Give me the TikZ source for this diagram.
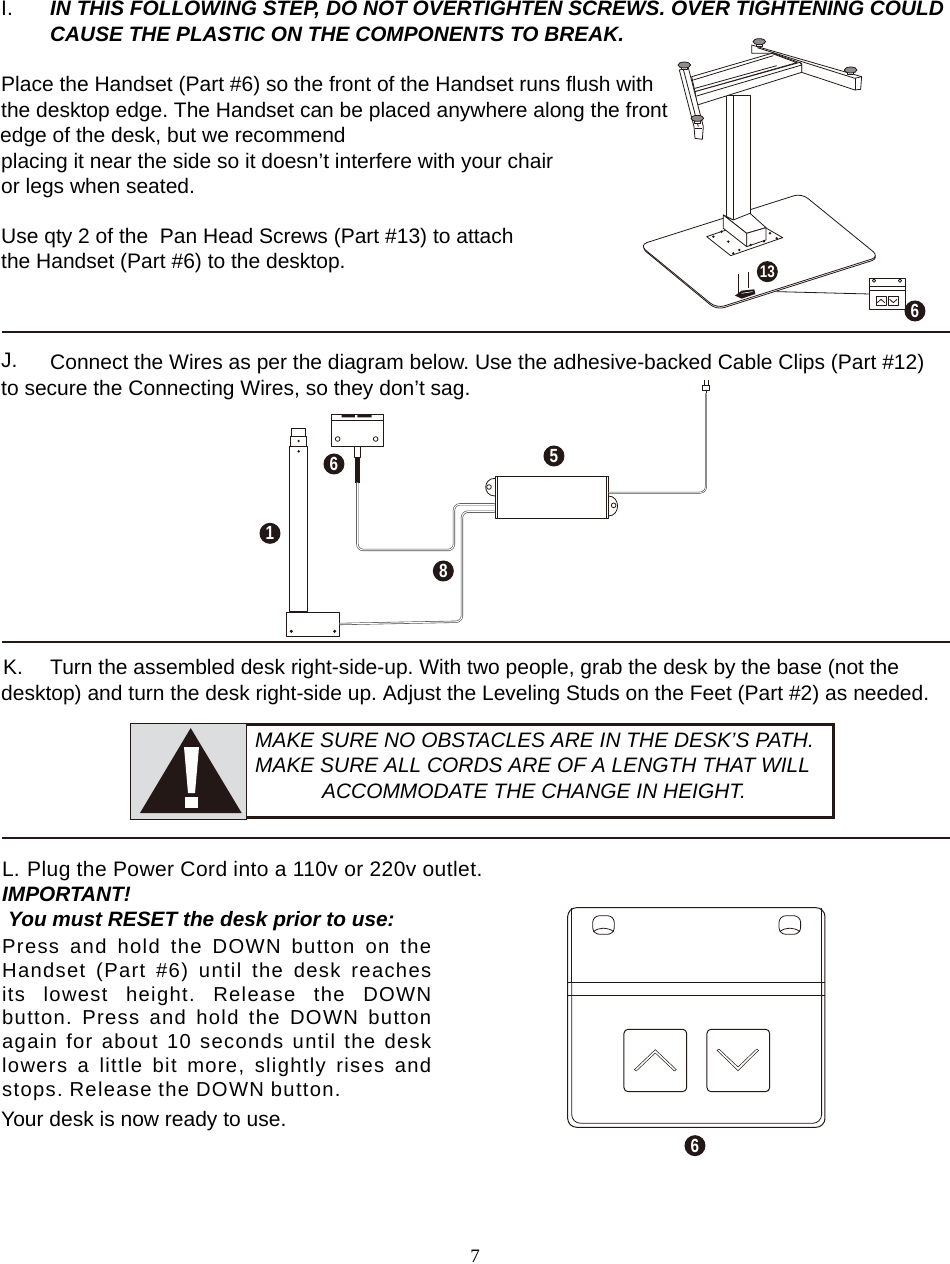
\documentclass[tikz,border=0pt]{standalone}
\usepackage{fontspec}
\setmainfont{Liberation Sans}
\newfontfamily\pageserif{Liberation Serif}
\newfontfamily\spacedsans[LetterSpace=6.5]{Liberation Sans}
\newfontfamily\widesans[LetterSpace=2]{Liberation Sans}
\usetikzlibrary{positioning}
\definecolor{inkdark}{HTML}{231815}
\definecolor{panelgrey}{HTML}{DCDDDE}
\newcommand{\jline}[1]{\makebox[429pt][s]{#1}}
\newcommand{\pn}[1]{\scalebox{.9}[1.12]{#1}}
\frenchspacing
\tikzset{
	bodytext/.style={anchor=base west,inner sep=0pt,font=\fontsize{21}{25}\selectfont},
	boldtext/.style={bodytext,font=\fontsize{20.8}{25}\selectfont\bfseries\itshape},
	boxtext/.style={bodytext,font=\fontsize{20.9}{25}\selectfont\itshape},
	justtext/.style={bodytext,font=\fontsize{20.2}{24}\selectfont\spacedsans},
	partnum/.style={circle,fill=inkdark,text=white,inner sep=0pt,minimum size=21pt,font=\fontsize{17}{17}\selectfont\bfseries},
	rule/.style={draw=inkdark,line width=1.1pt},
	outline/.style={draw=inkdark,line width=.8pt,line join=round},
	wire/.style={draw=black!70,line width=.6pt,double=white,double distance=1pt,rounded corners=6pt},
	controlbox/.style={outline,fill=white,inner sep=0pt}
}
\begin{document}
\begin{tikzpicture}[x=1pt,y=-1pt]
	\useasboundingbox (0,0) rectangle (950,1264);

	\node[bodytext] (secI) at (1,15) {I.};
	\node[boldtext] (warnA) at (50,15) {IN THIS FOLLOWING STEP, DO NOT OVERTIGHTEN SCREWS. OVER TIGHTENING COULD};
	\node[boldtext] (warnB) at (50,41) {CAUSE THE PLASTIC ON THE COMPONENTS TO BREAK.};
	\node[bodytext] (placeA) at (1,91) {Place the Handset (Part \#6) so the front of the Handset runs flush with};
	\node[bodytext] (placeB) at (1,117) {the desktop edge. The Handset can be placed anywhere along the front};
	\node[bodytext] (placeC) at (0,142) {edge of the desk, but we recommend};
	\node[bodytext] (placeD) at (1,168) {placing it near the side so it doesn’t interfere with your chair};
	\node[bodytext] (placeE) at (1,193) {or legs when seated.};
	\node[bodytext] (useA) at (1,243) {Use qty 2 of the\ \ Pan Head Screws (Part \#13) to attach};
	\node[bodytext] (useB) at (1,268) {the Handset (Part \#6) to the desktop.};

	\draw[rule] (2,332) -- (950,332);
	\draw[rule] (2,642) -- (950,642);
	\draw[rule] (2,838) -- (950,838);

	\node[bodytext] (secJ) at (1,367) {J.};
	\node[bodytext] (wireA) at (50,369) {Connect the Wires as per the diagram below. Use the adhesive-backed Cable Clips (Part \#12)};
	\node[bodytext] (wireB) at (1,395) {to secure the Connecting Wires, so they don’t sag.};

	\node[bodytext] (secK) at (3,674) {K.};
	\node[bodytext] (turnA) at (50,674) {Turn the assembled desk right-side-up. With two people, grab the desk by the base (not the};
	\node[bodytext] (turnB) at (1,700) {desktop) and turn the desk right-side up. Adjust the Leveling Studs on the Feet (Part \#2) as needed.};

	\node[bodytext] (secL) at (2,876) {L.};
	\node[bodytext,font=\fontsize{21}{25}\selectfont\widesans] (plug) at (27,876) {Plug the Power Cord into a 110v or 220v outlet.};
	\node[boldtext] (important) at (2,901) {IMPORTANT!};
	\node[boldtext] (reset) at (8,926) {You must RESET the desk prior to use:};
	\node[justtext] (pressA) at (2,953) {\jline{Press and hold the DOWN button on the}};
	\node[justtext] (pressB) at (2,977) {\jline{Handset (Part \#6) until the desk reaches}};
	\node[justtext] (pressC) at (2,1001) {\jline{its lowest height. Release the DOWN}};
	\node[justtext] (pressD) at (2,1024) {\jline{button. Press and hold the DOWN button}};
	\node[justtext] (pressE) at (2,1048) {\jline{again for about 10 seconds until the desk}};
	\node[justtext] (pressF) at (2,1072) {\jline{lowers a little bit more, slightly rises and}};
	\node[justtext] (pressG) at (2,1096) {stops. Release the DOWN button.};
	\node[bodytext] (ready) at (1,1126) {Your desk is now ready to use.};
	\node[anchor=base,inner sep=0pt,font=\fontsize{19}{19}\selectfont\pageserif] (pagenum) at (475,1262) {7};

	% warning box
	\fill[panelgrey] (130,723) rectangle (246,819);
	\draw[draw=inkdark,line width=1pt] (130,723) rectangle (246,819);
	\draw[draw=inkdark,line width=3pt] (246,724.5) -- (833,724.5) -- (833,817.5) -- (246,817.5);
	\draw[draw=inkdark,line width=1pt] (246,723) -- (246,819);
	\fill[inkdark] (190.7,728) -- (241.7,813) -- (140,813) -- cycle;
	\fill[white] (184,747) -- (199,747) -- (195,793) -- (188,793) -- cycle;
	\fill[white] (185,797) rectangle (198,808);
	\node[boxtext] (boxA) at (255,747) {MAKE SURE NO OBSTACLES ARE IN THE DESK’S PATH.};
	\node[boxtext] (boxB) at (255,772) {MAKE SURE ALL CORDS ARE OF A LENGTH THAT WILL};
	\node[boxtext] (boxC) at (322,798) {ACCOMMODATE THE CHANGE IN HEIGHT.};

	% desk on its stand
	\begin{scope}[shift={(620,30)},x=.3333pt,y=-.3333pt]
		\draw[outline,fill=white,rounded corners=8pt] (60,650) -- (545,495) -- (778,685) -- (290,840) -- cycle;
		\draw[outline,fill=white,rounded corners=8pt] (58,645) -- (545,490) -- (778,680) -- (290,835) -- cycle;
		\draw[outline,fill=white] (260,620) -- (400,572) -- (488,623) -- (332,677) -- cycle;
		\draw[outline,fill=white] (320,195) rectangle (392,570);
		\draw[outline] (340,195) -- (340,570);
		\draw[outline,fill=white] (310,555) -- (340,570) -- (390,550) -- (438,593) -- (380,610) -- cycle;
		\draw[outline,fill=white] (310,555) -- (380,610) -- (380,650) -- (310,595) -- cycle;
		\draw[outline,fill=white] (380,610) -- (438,593) -- (438,630) -- (380,650) -- cycle;
		\draw[outline,fill=white] (395,45) -- (725,140) -- (722,178) -- (705,180) -- (545,127) -- (545,100) -- (460,70) -- (395,70) -- cycle;
		\draw[outline] (412,53) -- (705,145) -- (725,140);
		\draw[outline] (705,145) -- (705,180);
		\draw[outline,fill=white] (215,140) -- (455,70) -- (530,98) -- (225,185) -- cycle;
		\draw[outline] (220,150) -- (460,77);
		\draw[outline] (225,175) -- (470,107);
		\draw[outline,fill=white] (225,185) -- (540,97) -- (545,105) -- (545,127) -- (232,225) -- cycle;
		\draw[outline] (230,198) -- (545,105);
		\draw[outline,fill=white] (178,120) -- (205,113) -- (250,290) -- (247,328) -- (225,325) -- (222,290) -- cycle;
		\draw[outline] (190,118) -- (235,290);
		\draw[outline] (225,295) -- (247,295);
		\foreach \fx/\fy in {193/105,232/265,418/35,692/120} {
			\draw[outline,fill=white] (\fx-9,\fy) rectangle (\fx+9,\fy+14);
			\draw[outline,fill=black!45] (\fx,\fy) ellipse (19 and 9);
		}
		\foreach \px/\py in {280/620,305/605,325/635,358/660,340/670,432/634,470/625,392/645,450/610} {
			\fill[inkdark] (\px,\py) circle (4);
		}
		\draw[outline] (356,745) -- (356,790);
		\draw[outline] (385,735) -- (385,775);
		\draw[draw=inkdark,line width=1.6pt] (356,733) -- (356,748);
		\draw[draw=inkdark,line width=1.6pt] (385,725) -- (385,740);
		\fill[inkdark] (345,797) -- (365,782) -- (403,778) -- (406,792) -- (365,806) -- cycle;
		\draw[white,line width=.6pt] (365,790) -- (398,785);
		\coordinate (deskedge) at (470,785);
		\node[controlbox,minimum width=36pt,minimum height=31pt] (smallhandset) at (802,792) {};
		\draw[outline] (deskedge) -- (smallhandset.west);
		\draw[outline] (748,770) -- (855,770);
		\draw[outline] (748,780) -- (855,780);
		\draw[outline] (768,800) rectangle (798,825);
		\draw[outline] (805,800) rectangle (835,825);
		\draw[outline] (772,818) -- (783,808) -- (794,818);
		\draw[outline] (809,808) -- (820,818) -- (831,808);
		\draw[outline] (762,752) circle (5);
		\draw[outline] (840,752) circle (5);
		\node[partnum,font=\fontsize{15}{15}\selectfont\bfseries] (num13) at (442,725) {\pn{13}};
		\node[partnum] (numsix) at (885,843) {\pn{6}};
	\end{scope}

	% wiring
	\begin{scope}[shift={(250,370)},x=.3333pt,y=-.3333pt]
		\draw[outline,fill=white] (125,175) rectangle (165,200);
		\draw[outline,fill=white] (122,200) rectangle (168,228);
		\draw[outline,fill=white] (118,228) rectangle (172,725);
		\fill[inkdark] (146,213) circle (4) (146,244) circle (4);
		\node[controlbox,minimum width=52.5pt,minimum height=24pt] (legfoot) at (189,762) {};
		\fill[inkdark] (124,784) circle (5) (254,784) circle (5);
		\node[controlbox,minimum width=51.5pt,minimum height=32pt] (wiredhandset) at (322,180) {};
		\draw[outline] (245,150) -- (400,150);
		\fill[inkdark] (275,132) rectangle (315,142) (322,132) rectangle (365,142);
		\draw[outline] (263,207) circle (7);
		\draw[outline] (377,207) circle (7);
		\draw[outline,fill=white] (312,228) rectangle (332,262);
		\fill[inkdark] (314,262) rectangle (330,338);
		\coordinate (plugend) at (322,338);
		\draw[outline,fill=white] (735,325) .. controls (698,325) and (698,378) .. (735,378);
		\draw[outline,fill=white] (1075,378) .. controls (1112,378) and (1112,438) .. (1075,438);
		\node[controlbox,minimum width=113pt,minimum height=42pt] (controller) at (905,381) {};
		\draw[outline] (743,318) -- (743,443);
		\draw[outline] (1068,318) -- (1068,443);
		\draw[outline] (717,351) circle (7);
		\draw[outline] (1091,406) circle (7);
		\draw[wire] (plugend) -- (322,540) -- (612,540) -- (612,403) -- (controller.west |- 0,403);
		\draw[wire] (legfoot.east) -- (636,755) -- (636,425) -- (controller.west |- 0,425);
		\coordinate (plugfoot) at (1368,70);
		\draw[wire,double distance=.6pt] (controller.east |- 0,368) -- (1368,368) -- (plugfoot);
		\draw[outline,fill=white] (1358,46) rectangle (1378,60);
		\draw[outline] (1368,60) -- (plugfoot);
		\draw[outline] (1362,30) -- (1362,46);
		\draw[outline] (1374,30) -- (1374,46);
		\node[partnum] (numone) at (60,490) {\pn{1}};
		\node[partnum] (numsixb) at (252,282) {\pn{6}};
		\node[partnum] (numfive) at (912,258) {\pn{5}};
		\node[partnum] (numeight) at (580,603) {\pn{8}};
	\end{scope}

	% large handset
	\begin{scope}[shift={(555,895)},x=.3333pt,y=-.3333pt]
		\draw[outline,line width=1pt,rounded corners=9pt] (38,38) rectangle (810,697);
		\draw[outline,rounded corners=9pt] (50,262) -- (50,685) -- (800,685) -- (800,262);
		\draw[outline] (50,38) -- (50,262);
		\draw[outline] (800,38) -- (800,262);
		\draw[outline] (38,262) -- (810,262);
		\draw[outline,line width=1pt] (38,302) -- (810,302);
		\foreach \hx in {113,672} {
			\draw[outline,rounded corners=7pt] (\hx,62) rectangle (\hx+65,118);
			\draw[outline] (\hx+2,110) .. controls (\hx+20,96) and (\hx+45,96) .. (\hx+63,110);
		}
		\draw[outline,line width=1pt,rounded corners=4pt] (207,403) rectangle (395,590);
		\draw[outline,line width=1pt,rounded corners=4pt] (456,403) rectangle (644,590);
		\draw[outline,line width=.5pt,line cap=round] (238,524) -- (301,464) -- (364,524) -- (358,528) -- (301,474) -- (244,528) -- cycle;
		\draw[outline,line width=.5pt,line cap=round] (486,466) -- (549,527) -- (611,466) -- (605,462) -- (549,516) -- (492,462) -- cycle;
		\node[partnum] (numsixc) at (420,752) {\pn{6}};
	\end{scope}
\end{tikzpicture}
\end{document}
